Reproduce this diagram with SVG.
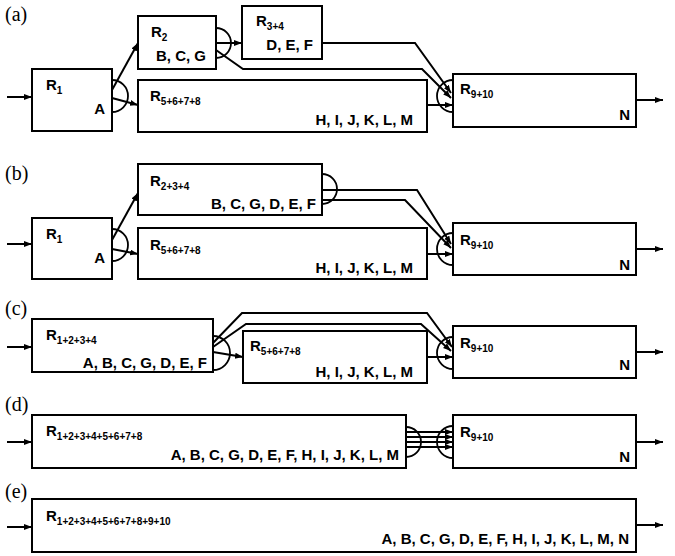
<svg xmlns="http://www.w3.org/2000/svg" width="675" height="556" viewBox="0 0 675 556">
<style>
.box{fill:#fff;stroke:#000;stroke-width:2}
.ln{fill:none;stroke:#000;stroke-width:2;stroke-linejoin:miter}
.arc{fill:none;stroke:#000;stroke-width:1.8}
.t{font-family:"Liberation Sans",Arial,sans-serif;font-weight:bold;font-size:15px;fill:#000}
.s{font-size:10px}
.e{text-anchor:end}
.p{font-family:"Liberation Serif","Times New Roman",serif;font-size:20px;fill:#000}
</style>
<defs>
<marker id="ah" markerWidth="9" markerHeight="7" refX="8" refY="3" orient="auto" markerUnits="userSpaceOnUse">
<path d="M0,0 L8,3 L0,6 z" fill="#000"/>
</marker>
</defs>
<rect width="675" height="556" fill="#fff"/>

<!-- panel labels -->
<text class="p" x="5" y="21">(a)</text>
<text class="p" x="5" y="180">(b)</text>
<text class="p" x="5" y="315">(c)</text>
<text class="p" x="5" y="411">(d)</text>
<text class="p" x="5" y="498">(e)</text>

<!-- (a) nodes -->
<g id="a-R1"><rect class="box" x="32" y="69" width="80" height="62"/>
<text class="t" x="46" y="90">R<tspan class="s" dy="4">1</tspan></text>
<text class="t e" x="105" y="114">A</text></g>
<g id="a-R2"><rect class="box" x="138" y="16" width="78" height="53"/>
<text class="t" x="151" y="37">R<tspan class="s" dy="4">2</tspan></text>
<text class="t e" x="206" y="61">B, C, G</text></g>
<g id="a-R34"><rect class="box" x="242" y="6" width="80" height="53"/>
<text class="t" x="256" y="26">R<tspan class="s" dy="4">3+4</tspan></text>
<text class="t e" x="313" y="50">D, E, F</text></g>
<g id="a-R5678"><rect class="box" x="138" y="80" width="289" height="52"/>
<text class="t" x="150" y="101">R<tspan class="s" dy="4">5+6+7+8</tspan></text>
<text class="t e" x="413" y="125">H, I, J, K, L, M</text></g>
<g id="a-R910"><rect class="box" x="453" y="74" width="183" height="53"/>
<text class="t" x="460" y="94">R<tspan class="s" dy="4">9+10</tspan></text>
<text class="t e" x="630" y="120">N</text></g>

<!-- (b) nodes -->
<g id="b-R1"><rect class="box" x="32" y="218" width="80" height="61"/>
<text class="t" x="46" y="239">R<tspan class="s" dy="4">1</tspan></text>
<text class="t e" x="105" y="263">A</text></g>
<g id="b-R234"><rect class="box" x="138" y="164" width="184" height="51"/>
<text class="t" x="150" y="186">R<tspan class="s" dy="4">2+3+4</tspan></text>
<text class="t e" x="316" y="209">B, C, G, D, E, F</text></g>
<g id="b-R5678"><rect class="box" x="138" y="228" width="289" height="51"/>
<text class="t" x="150" y="250">R<tspan class="s" dy="4">5+6+7+8</tspan></text>
<text class="t e" x="413" y="273">H, I, J, K, L, M</text></g>
<g id="b-R910"><rect class="box" x="453" y="223" width="183" height="52"/>
<text class="t" x="460" y="245">R<tspan class="s" dy="4">9+10</tspan></text>
<text class="t e" x="630" y="270">N</text></g>

<!-- (c) nodes -->
<g id="c-R1234"><rect class="box" x="32" y="319" width="181" height="53"/>
<text class="t" x="46" y="340">R<tspan class="s" dy="4">1+2+3+4</tspan></text>
<text class="t e" x="207" y="368">A, B, C, G, D, E, F</text></g>
<g id="c-R5678"><rect class="box" x="243" y="331" width="184" height="52"/>
<text class="t" x="250" y="351">R<tspan class="s" dy="4">5+6+7+8</tspan></text>
<text class="t e" x="413" y="377">H, I, J, K, L, M</text></g>
<g id="c-R910"><rect class="box" x="453" y="326" width="183" height="52"/>
<text class="t" x="460" y="348">R<tspan class="s" dy="4">9+10</tspan></text>
<text class="t e" x="630" y="370">N</text></g>

<!-- (d) nodes -->
<g id="d-R1to8"><rect class="box" x="32" y="415" width="374" height="53"/>
<text class="t" x="46" y="436">R<tspan class="s" dy="4">1+2+3+4+5+6+7+8</tspan></text>
<text class="t e" x="399" y="460">A, B, C, G, D, E, F, H, I, J, K, L, M</text></g>
<g id="d-R910"><rect class="box" x="453" y="415" width="183" height="53"/>
<text class="t" x="460" y="437">R<tspan class="s" dy="4">9+10</tspan></text>
<text class="t e" x="630" y="462">N</text></g>

<!-- (e) node -->
<g id="e-R1to10"><rect class="box" x="32" y="499" width="604" height="53"/>
<text class="t" x="46" y="521">R<tspan class="s" dy="4">1+2+3+4+5+6+7+8+9+10</tspan></text>
<text class="t e" x="629" y="544">A, B, C, G, D, E, F, H, I, J, K, L, M, N</text></g>

<!-- connectors -->
<g id="connectors">
<!-- (a) -->
<line class="ln" x1="7" y1="97" x2="32" y2="97" marker-end="url(#ah)"/>
<path class="arc" d="M112,80 A16,16 0 0 1 112,112"/>
<line class="ln" x1="112" y1="90" x2="138" y2="43" marker-end="url(#ah)"/>
<line class="ln" x1="112" y1="98" x2="138" y2="105" marker-end="url(#ah)"/>
<path class="arc" d="M216,28 A15,15 0 0 1 216,58"/>
<line class="ln" x1="216" y1="43" x2="242" y2="43" marker-end="url(#ah)"/>
<polyline class="ln" points="216,50 243,69 422,69 451,98" marker-end="url(#ah)"/>
<polyline class="ln" points="322,43 415,43 451,93" marker-end="url(#ah)"/>
<line class="ln" x1="427" y1="105" x2="453" y2="105" marker-end="url(#ah)"/>
<path class="arc" d="M453,80 A16,16 0 0 0 453,112"/>
<line class="ln" x1="636" y1="100" x2="663" y2="100" marker-end="url(#ah)"/>
<!-- (b) -->
<line class="ln" x1="7" y1="244" x2="32" y2="244" marker-end="url(#ah)"/>
<path class="arc" d="M112,229 A16,16 0 0 1 112,261"/>
<line class="ln" x1="112" y1="240" x2="138" y2="193" marker-end="url(#ah)"/>
<line class="ln" x1="112" y1="249" x2="138" y2="254" marker-end="url(#ah)"/>
<path class="arc" d="M322,174 A15,15 0 0 1 322,204"/>
<polyline class="ln" points="322,190 417,190 451,244" marker-end="url(#ah)"/>
<polyline class="ln" points="322,200 405,200 451,248" marker-end="url(#ah)"/>
<line class="ln" x1="427" y1="254" x2="453" y2="254" marker-end="url(#ah)"/>
<path class="arc" d="M453,233 A16,16 0 0 0 453,265"/>
<line class="ln" x1="636" y1="249" x2="663" y2="249" marker-end="url(#ah)"/>
<!-- (c) -->
<line class="ln" x1="7" y1="347" x2="32" y2="347" marker-end="url(#ah)"/>
<path class="arc" d="M213,336 A17,17 0 0 1 213,370"/>
<polyline class="ln" points="213,343 242,313 427,313 452,347" marker-end="url(#ah)"/>
<polyline class="ln" points="213,347 246,324 421,324 451,351" marker-end="url(#ah)"/>
<line class="ln" x1="213" y1="352" x2="243" y2="357" marker-end="url(#ah)"/>
<line class="ln" x1="427" y1="357" x2="453" y2="357" marker-end="url(#ah)"/>
<path class="arc" d="M453,337 A16,16 0 0 0 453,369"/>
<line class="ln" x1="636" y1="352" x2="663" y2="352" marker-end="url(#ah)"/>
<!-- (d) -->
<line class="ln" x1="7" y1="442" x2="32" y2="442" marker-end="url(#ah)"/>
<path class="arc" d="M406,427 A15,15 0 0 1 406,457"/>
<line class="ln" x1="406" y1="432" x2="453" y2="432" marker-end="url(#ah)"/>
<line class="ln" x1="406" y1="437" x2="453" y2="437" marker-end="url(#ah)"/>
<line class="ln" x1="406" y1="442" x2="453" y2="442" marker-end="url(#ah)"/>
<line class="ln" x1="406" y1="447" x2="453" y2="447" marker-end="url(#ah)"/>
<path class="arc" d="M453,426 A16,16 0 0 0 453,458"/>
<line class="ln" x1="636" y1="442" x2="663" y2="442" marker-end="url(#ah)"/>
<!-- (e) -->
<line class="ln" x1="7" y1="527" x2="32" y2="527" marker-end="url(#ah)"/>
<line class="ln" x1="636" y1="525" x2="663" y2="525" marker-end="url(#ah)"/>
</g>
</svg>
